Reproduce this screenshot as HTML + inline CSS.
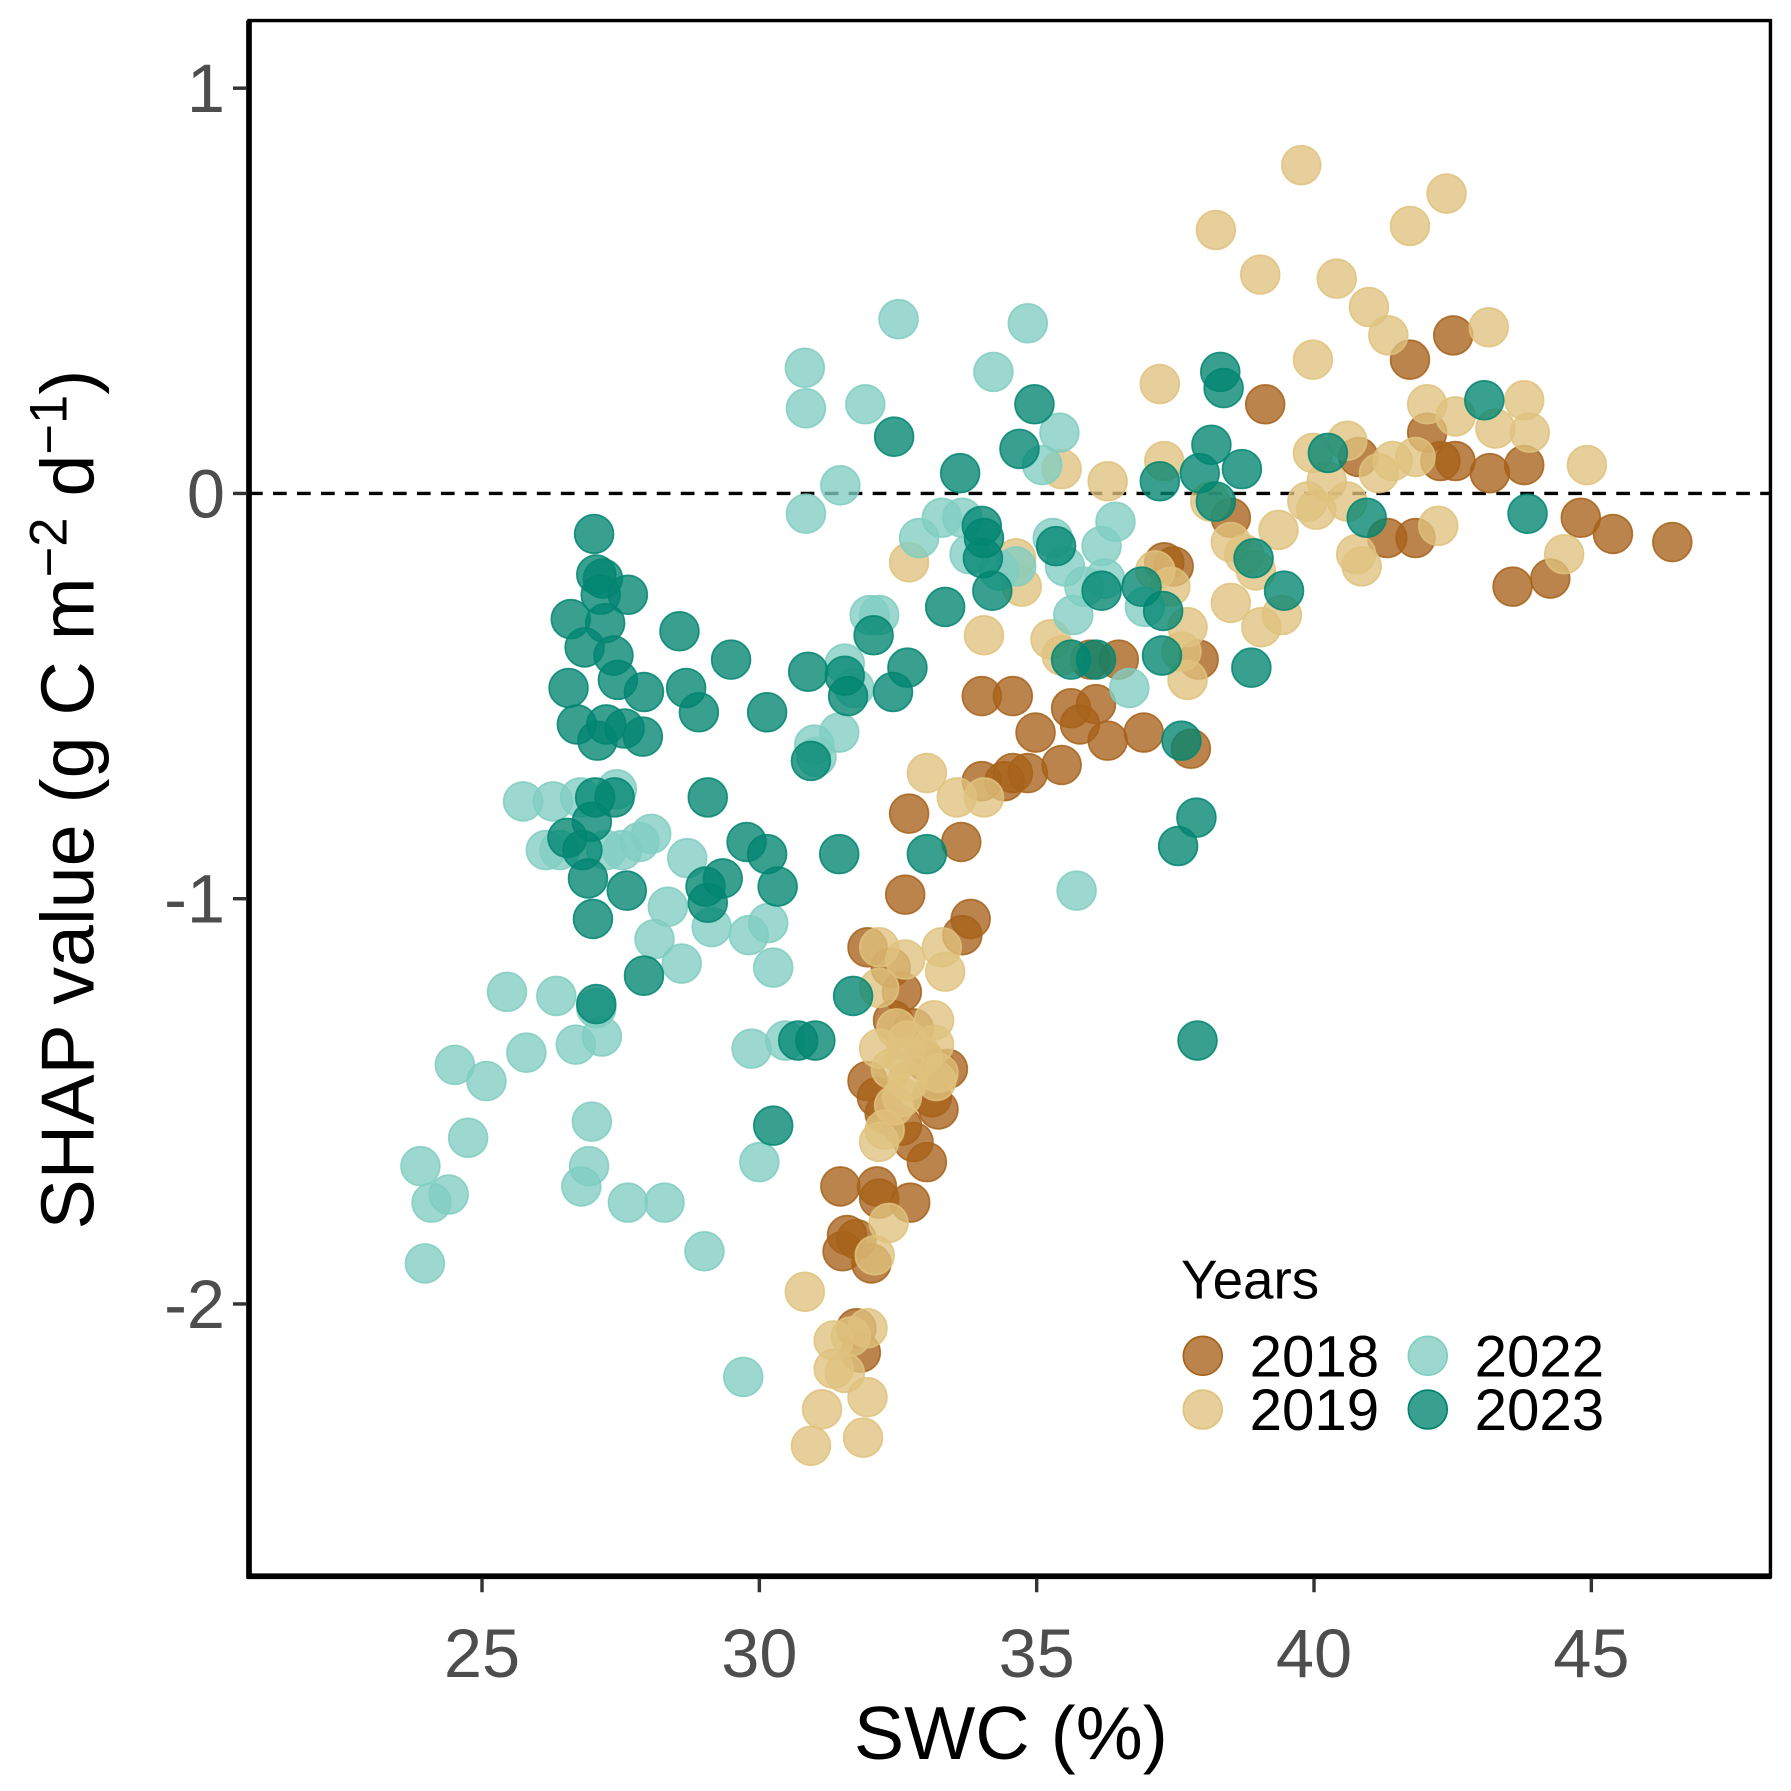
<!DOCTYPE html>
<html><head><meta charset="utf-8">
<style>html,body{margin:0;padding:0;background:#fff}svg{display:block}</style>
</head><body>
<svg id="chart" width="1791" height="1791" viewBox="0 0 1568 1568" xmlns="http://www.w3.org/2000/svg" font-family="'Liberation Sans', sans-serif">
<rect x="0" y="0" width="1568" height="1568" fill="#fff"/>
<g id="points"></g>
<g id="axes"></g>
</svg>
<script>
const xTicks = [25, 30, 35, 40, 45];
const yTicks = [1, 0, -1, -2];
const yTickLabels = ["1", "0", "-1", "-2"];
const years = ["2018", "2019", "2022", "2023"];
const colors = ["#a6611a", "#dfc27d", "#80cdc1", "#018571"];

const x2018 = [41.73,42.51,39.12,38.50,40.80,41.32,41.83,42.04,42.28,42.55,43.17,43.79,43.58,44.26,44.81,45.39,46.46,37.30,37.47,37.92,37.78,36.93,36.28,35.78,35.62,36.07,35.97,36.48,34.98,35.45,34.84,34.57,34.42,34.01,34.57,34.01,33.64,32.70,32.63,33.81,33.66,31.95,32.37,32.57,32.41,32.78,32.98,33.19,33.40,33.11,33.23,31.95,32.12,32.26,32.57,32.78,33.02,31.46,32.12,32.72,31.58,31.75,31.50,32.02,31.75,31.83,32.16];
const y2018 = [0.33,0.39,0.22,-0.06,0.09,-0.11,-0.11,0.15,0.08,0.08,0.05,0.07,-0.23,-0.21,-0.06,-0.10,-0.12,-0.17,-0.18,-0.41,-0.63,-0.59,-0.61,-0.57,-0.53,-0.52,-0.41,-0.41,-0.59,-0.67,-0.69,-0.69,-0.71,-0.50,-0.50,-0.71,-0.86,-0.79,-0.99,-1.05,-1.09,-1.12,-1.17,-1.23,-1.30,-1.32,-1.40,-1.42,-1.42,-1.49,-1.52,-1.45,-1.49,-1.53,-1.56,-1.60,-1.65,-1.71,-1.71,-1.75,-1.83,-1.84,-1.87,-1.90,-2.06,-2.12,-1.74];

const x2019 = [39.77,42.39,38.23,39.03,41.73,40.41,40.99,41.34,43.15,39.98,37.22,42.04,42.55,43.79,43.27,43.89,44.92,40.60,39.98,40.23,41.17,41.42,41.83,39.88,40.04,40.60,42.24,40.76,40.86,39.36,38.50,38.74,38.95,38.50,39.05,39.42,44.51,38.13,37.30,35.45,36.28,37.72,37.72,37.61,37.41,37.14,35.25,35.45,34.73,34.63,34.05,32.70,33.02,33.56,34.05,32.16,32.63,33.29,33.35,32.16,32.47,32.67,32.16,32.37,32.67,33.15,33.23,33.19,32.57,32.43,32.26,32.16,32.33,32.08,31.95,30.82,30.93,31.87,31.95,31.13,31.34,31.54,31.34,31.65,33.15,32.94,32.61];
const y2019 = [0.81,0.74,0.65,0.54,0.66,0.53,0.46,0.39,0.41,0.33,0.27,0.22,0.19,0.23,0.16,0.15,0.07,0.13,0.10,0.03,0.05,0.08,0.09,-0.02,-0.04,-0.02,-0.08,-0.15,-0.18,-0.09,-0.12,-0.15,-0.19,-0.27,-0.33,-0.30,-0.15,-0.02,0.08,0.06,0.03,-0.33,-0.46,-0.39,-0.23,-0.19,-0.36,-0.40,-0.23,-0.16,-0.35,-0.17,-0.69,-0.75,-0.75,-1.12,-1.15,-1.12,-1.18,-1.22,-1.32,-1.35,-1.37,-1.42,-1.45,-1.36,-1.43,-1.45,-1.49,-1.51,-1.57,-1.60,-1.80,-1.88,-2.06,-1.97,-2.35,-2.33,-2.23,-2.26,-2.16,-2.17,-2.09,-2.08,-1.30,-1.39,-1.39];

const x2022 = [23.89,23.97,24.09,24.40,24.51,24.75,25.08,25.45,25.74,25.80,26.15,26.28,26.34,26.40,26.69,26.77,26.79,26.93,26.98,27.06,27.16,27.24,27.43,27.53,27.63,27.84,28.05,28.11,28.29,28.35,28.60,28.70,29.01,29.14,29.71,29.81,29.86,30.00,30.16,30.25,30.47,30.82,30.84,30.84,30.99,31.46,31.54,31.91,31.99,32.51,32.88,33.29,33.66,33.79,34.22,34.84,35.10,35.29,35.41,35.51,35.66,35.86,36.17,36.23,36.42,36.67,36.95,35.72,34.32,34.63,31.03,31.44,31.71,32.16];
const y2022 = [-1.66,-1.90,-1.75,-1.73,-1.41,-1.59,-1.45,-1.23,-0.76,-1.38,-0.88,-0.76,-1.24,-0.88,-1.36,-0.75,-1.71,-1.66,-1.55,-1.27,-1.34,-0.88,-0.73,-0.88,-1.75,-0.86,-0.84,-1.10,-1.75,-1.02,-1.16,-0.90,-1.87,-1.07,-2.18,-1.09,-1.37,-1.65,-1.06,-1.17,-1.35,0.31,0.21,-0.05,-0.62,0.02,-0.42,0.22,-0.30,0.43,-0.11,-0.06,-0.06,-0.15,0.30,0.42,0.07,-0.11,0.15,-0.18,-0.30,-0.23,-0.13,-0.21,-0.07,-0.48,-0.28,-0.98,-0.19,-0.18,-0.65,-0.59,-0.48,-0.30];

const x2023 = [27.02,27.06,27.14,27.18,26.60,26.85,27.22,27.63,27.37,27.45,26.56,26.71,27.08,27.24,27.57,27.90,27.92,28.56,28.68,28.91,29.49,30.14,30.88,30.93,31.54,31.60,32.06,32.41,32.67,27.04,26.98,26.54,26.81,26.91,27.39,27.61,27.00,27.06,27.92,29.07,29.07,29.03,29.34,29.77,30.14,30.33,30.70,31.01,30.25,31.44,31.69,33.02,32.43,33.35,33.62,34.01,34.03,34.05,34.20,34.69,34.96,35.35,35.62,36.07,36.17,36.89,37.22,37.28,37.26,37.61,37.55,37.88,37.90,38.15,37.94,38.23,38.31,38.37,38.70,38.91,38.87,39.46,40.25,40.95,43.07,43.85];
const y2023 = [-0.10,-0.20,-0.25,-0.21,-0.31,-0.38,-0.32,-0.25,-0.40,-0.46,-0.48,-0.57,-0.61,-0.57,-0.58,-0.60,-0.49,-0.34,-0.48,-0.54,-0.41,-0.54,-0.44,-0.66,-0.45,-0.50,-0.35,-0.49,-0.43,-0.75,-0.81,-0.85,-0.88,-0.95,-0.75,-0.98,-1.05,-1.26,-1.19,-0.75,-1.01,-0.97,-0.95,-0.86,-0.89,-0.97,-1.35,-1.35,-1.56,-0.89,-1.24,-0.89,0.14,-0.28,0.05,-0.08,-0.16,-0.11,-0.24,0.11,0.22,-0.13,-0.41,-0.41,-0.24,-0.23,0.03,-0.29,-0.40,-0.61,-0.87,-0.80,-1.35,0.12,0.05,-0.02,0.30,0.26,0.06,-0.16,-0.43,-0.24,0.10,-0.06,0.23,-0.05];

const seriesX = [x2018, x2019, x2022, x2023];
const seriesY = [y2018, y2019, y2022, y2023];

const NS = "http://www.w3.org/2000/svg";
const L = 218, T = 18, R = 1550, B = 1380;
function sx(v){ return 422 + (v - 25) * 48.56; }
function sy(v){ return 432 - v * 354.8; }
function mk(tag, attrs, parent){
  const e = document.createElementNS(NS, tag);
  for (const k in attrs) e.setAttribute(k, attrs[k]);
  parent.appendChild(e);
  return e;
}
const pts = document.getElementById('points');
const ax = document.getElementById('axes');

const zl = mk('line', {x1:L, x2:R, y1:sy(0), y2:sy(0), stroke:'#000', 'stroke-width':3, 'stroke-dasharray':'12 9'}, pts);



for (let s = 0; s < years.length; s++) {
  const g = mk('g', {}, pts);
  
  
  for (let i = 0; i < seriesX[s].length; i++) {
    const c = mk('circle', {cx:sx(seriesX[s][i]), cy:sy(seriesY[s][i]), r:17, fill:colors[s], 'fill-opacity':0.78, stroke:colors[s], 'stroke-opacity':0.85, 'stroke-width':1.5}, g);
    
    
  }
}

const pb = mk('rect', {x:L, y:T, width:R-L, height:B-T, fill:'none', stroke:'#000', 'stroke-width':3}, ax);


const yl = mk('line', {x1:L, x2:L, y1:T, y2:B+2, stroke:'#000', 'stroke-width':5}, ax);


const xl = mk('line', {x1:L-2, x2:R+1, y1:B, y2:B, stroke:'#000', 'stroke-width':5}, ax);



for (let i = 0; i < xTicks.length; i++) {
  const x = sx(xTicks[i]);
  const t = mk('line', {x1:x, x2:x, y1:B+2, y2:B+14, stroke:'#333', 'stroke-width':3}, ax);
  
  
  const tx = mk('text', {x:x, y:1468, 'text-anchor':'middle', 'font-size':60, fill:'#4d4d4d'}, ax);
  tx.textContent = String(xTicks[i]);
  
  
}
for (let i = 0; i < yTicks.length; i++) {
  const y = sy(yTicks[i]);
  const t = mk('line', {x1:L-14, x2:L-2, y1:y, y2:y, stroke:'#333', 'stroke-width':3}, ax);
  
  
  const tx = mk('text', {x:197, y:y+21, 'text-anchor':'end', 'font-size':60, fill:'#4d4d4d'}, ax);
  tx.textContent = yTickLabels[i];
  
  
}

const xt = mk('text', {x:885, y:1540, 'text-anchor':'middle', 'font-size':66, fill:'#000'}, ax);
xt.textContent = 'SWC (%)';


const ytt = mk('text', {x:0, y:0, 'text-anchor':'middle', 'font-size':66, fill:'#000', transform:'translate(82,700) rotate(-90)'}, ax);


ytt.innerHTML = 'SHAP value (g C m<tspan dy="-24" font-size="46">−2</tspan><tspan dy="24"> d</tspan><tspan dy="-24" font-size="46">−1</tspan><tspan dy="24">)</tspan>';

const lg = mk('g', {}, ax);


const lt = mk('text', {x:1034, y:1137, 'font-size':48, fill:'#000'}, lg);
lt.textContent = 'Years';


const legPos = [[1053,1187],[1053,1234],[1250,1187],[1250,1234]];
for (let s = 0; s < years.length; s++) {
  const e = mk('g', {}, lg);
  
  
  mk('circle', {cx:legPos[s][0], cy:legPos[s][1], r:17, fill:colors[s], 'fill-opacity':0.78, stroke:colors[s], 'stroke-width':1.5}, e);
  const t = mk('text', {x:legPos[s][0]+41, y:legPos[s][1]+18, 'font-size':51, fill:'#000'}, e);
  t.textContent = years[s];
}
</script>
</body></html>
